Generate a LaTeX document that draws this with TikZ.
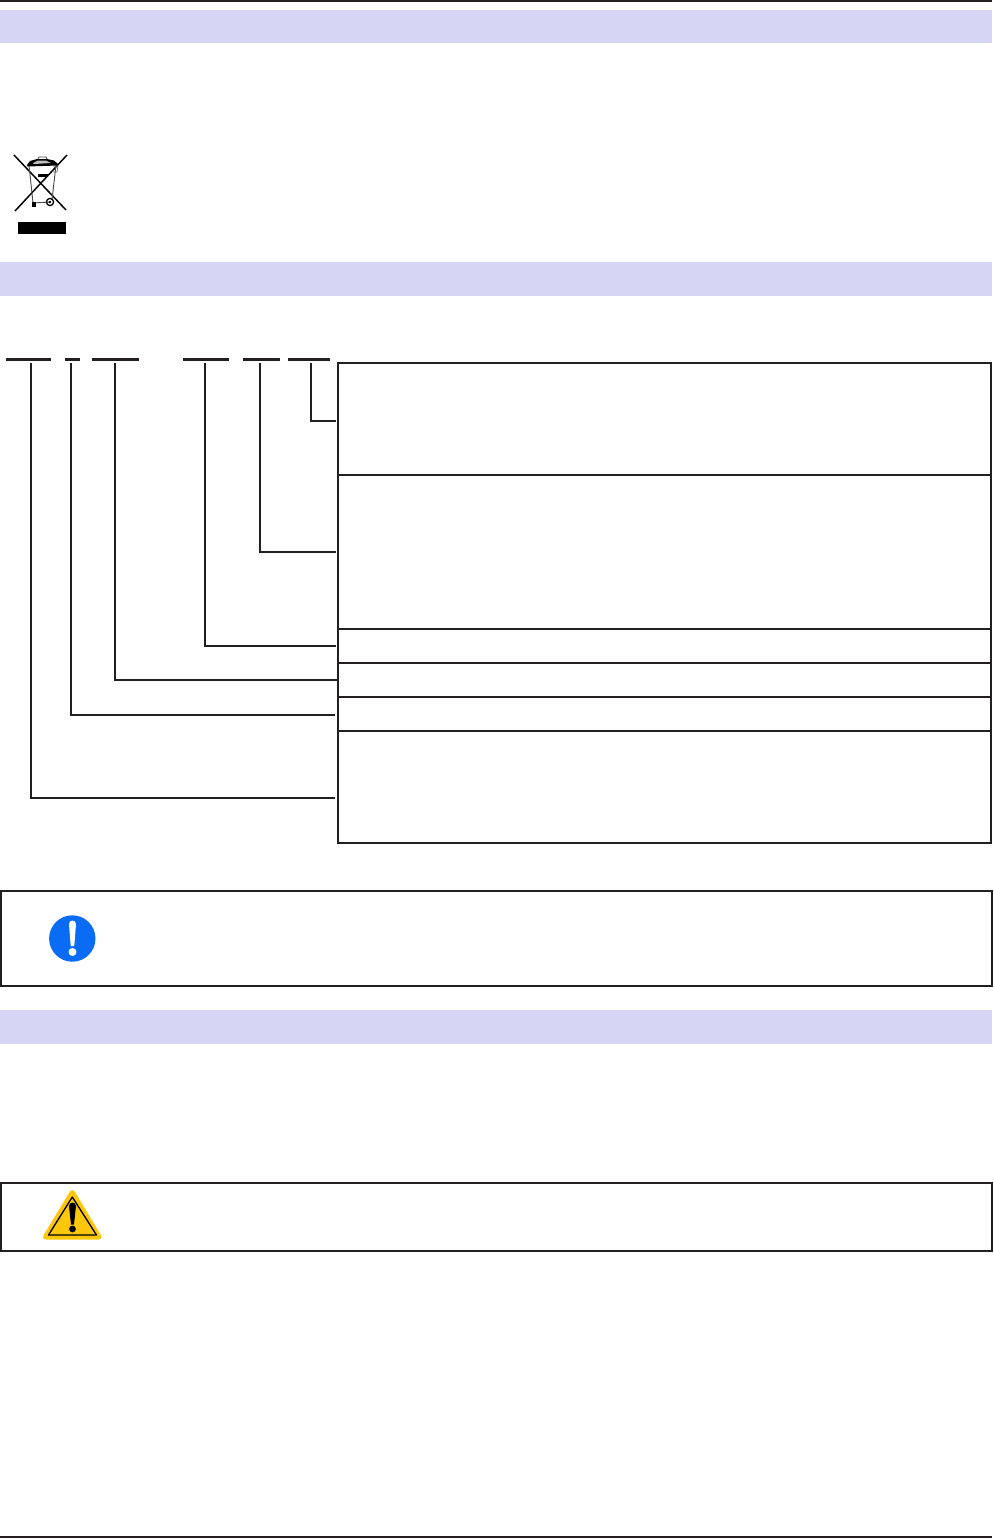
\documentclass[tikz,border=0pt]{standalone}
\definecolor{band}{HTML}{D6D6F4}
\definecolor{ink}{HTML}{231F20}
\definecolor{infoblue}{HTML}{0A6CF5}
\definecolor{warnyellow}{HTML}{FDC70C}
\tikzset{
  bandbox/.style={fill=band,draw=none,minimum width=992*0.75pt,minimum height=33.5*0.75pt,inner sep=0pt,outer sep=0pt,anchor=north west},
  rowbox/.style={draw=ink,line width=1.5pt,fill=none,minimum width=653*0.75pt,inner sep=0pt,outer sep=0pt,anchor=north west},
  framebox/.style={draw=ink,line width=1.5pt,fill=none,minimum width=991*0.75pt,inner sep=0pt,outer sep=0pt,anchor=north west},
  barline/.style={draw=ink,line width=2.2pt},
  conn/.style={draw=ink,line width=1.5pt},
  rule/.style={draw=ink,line width=1.5pt}
}
\begin{document}
\begin{tikzpicture}[x=0.75pt,y=-0.75pt]
\useasboundingbox (0,0) rectangle (993,1538);
\fill[white] (0,0) rectangle (993,1538);
% page rules
\coordinate (tl) at (0,1); \coordinate (tr) at (992,1);
\coordinate (bl) at (0,1537); \coordinate (br) at (992,1537);
\draw[rule] (tl) -- (tr);
\draw[rule] (bl) -- (br);
% bands
\node[bandbox] (band1) at (0,10) {};
\node[bandbox] (band2) at (0,262) {};
\node[bandbox] (band3) at (0,1010) {};
% row boxes
\node[rowbox,minimum height=112*0.75pt] (r1) at (338,363) {};
\node[rowbox,minimum height=154*0.75pt] (r2) at (338,475) {};
\node[rowbox,minimum height=34*0.75pt] (r3) at (338,629) {};
\node[rowbox,minimum height=34*0.75pt] (r4) at (338,663) {};
\node[rowbox,minimum height=34*0.75pt] (r5) at (338,697) {};
\node[rowbox,minimum height=112*0.75pt] (r6) at (338,731) {};
% code bars
\foreach \n/\a/\b in {a/6/51,b/65/80,c/92/139,d/183/229,e/243/280,f/288/330}{
  \coordinate (\n L) at (\a,359.3);
  \coordinate (\n R) at (\b,359.3);
  \draw[barline] (\n L) -- (\n R);
}
% connectors
\coordinate (s1) at (311,363); \coordinate (e1) at (336,421);
\coordinate (s2) at (260,363); \coordinate (e2) at (336,552);
\coordinate (s3) at (205,363); \coordinate (e3) at (336,646);
\coordinate (s4) at (115,363); \coordinate (e4) at (338,680);
\coordinate (s5) at (71,363);  \coordinate (e5) at (335,715);
\coordinate (s6) at (31,363);  \coordinate (e6) at (335,798);
\foreach \i in {1,...,6}{ \draw[conn] (s\i) |- (e\i); }
% frames
\node[framebox,minimum height=95*0.75pt] (info) at (1,891) {};
\node[framebox,minimum height=68*0.75pt] (warn) at (1,1183) {};
% info icon
\fill[infoblue] (72.3,938.5) circle[radius=23.2];
\fill[white] (69,924) .. controls (69,919.5) and (76,919.5) .. (76,924) -- (74.3,946) -- (70.7,946) -- cycle;
\fill[white] (72.5,952) circle[radius=4];
% warning icon
\fill[warnyellow,rounded corners=4pt] (72.3,1187.5) -- (103.5,1239.5) -- (41,1239.5) -- cycle;
\draw[black,line width=1pt,line join=round] (72.3,1197) -- (96.5,1235) -- (48.5,1235) -- cycle;
\fill[black] (69,1206) .. controls (69,1201.5) and (76,1201.5) .. (76,1206) -- (74,1224.5) -- (71,1224.5) -- cycle;
\fill[black] (72.5,1229) circle[radius=3.4];
% recycling bin icon
\begin{scope}[black]
\draw[line width=1.1pt] (14,155) -- (66,210);
\draw[line width=1.1pt] (67,155) -- (15,211);
\draw[line width=0.7pt,black!70] (29,165) -- (33,203) -- (50,202);
\draw[line width=0.7pt,black!70] (56,165) -- (52,200);
\fill (27,165) -- (30,161) -- (37,159) -- (47,159) -- (54,160.5) -- (58,164) -- (58,165.5) -- (27,166.5) -- cycle;
\fill[black!25] (33,163) -- (38,160.5) -- (46,160.5) -- (51,163) -- (34,164) -- cycle;
\draw[line width=0.6pt,black!70] (38,159) -- (39,157) -- (46,157) -- (47,159);
\draw[line width=0.5pt,black!60] (53,166) -- (58,166) -- (57,172) -- (53,172);
\fill (38,173.5) rectangle (48,177);
\fill (32,202) rectangle (35.5,207);
\draw[line width=1pt] (50,202) circle[radius=3.6];
\fill (50,202) circle[radius=1.3];
\fill (18,222) rectangle (66,234);
\end{scope}
\end{tikzpicture}
\end{document}
